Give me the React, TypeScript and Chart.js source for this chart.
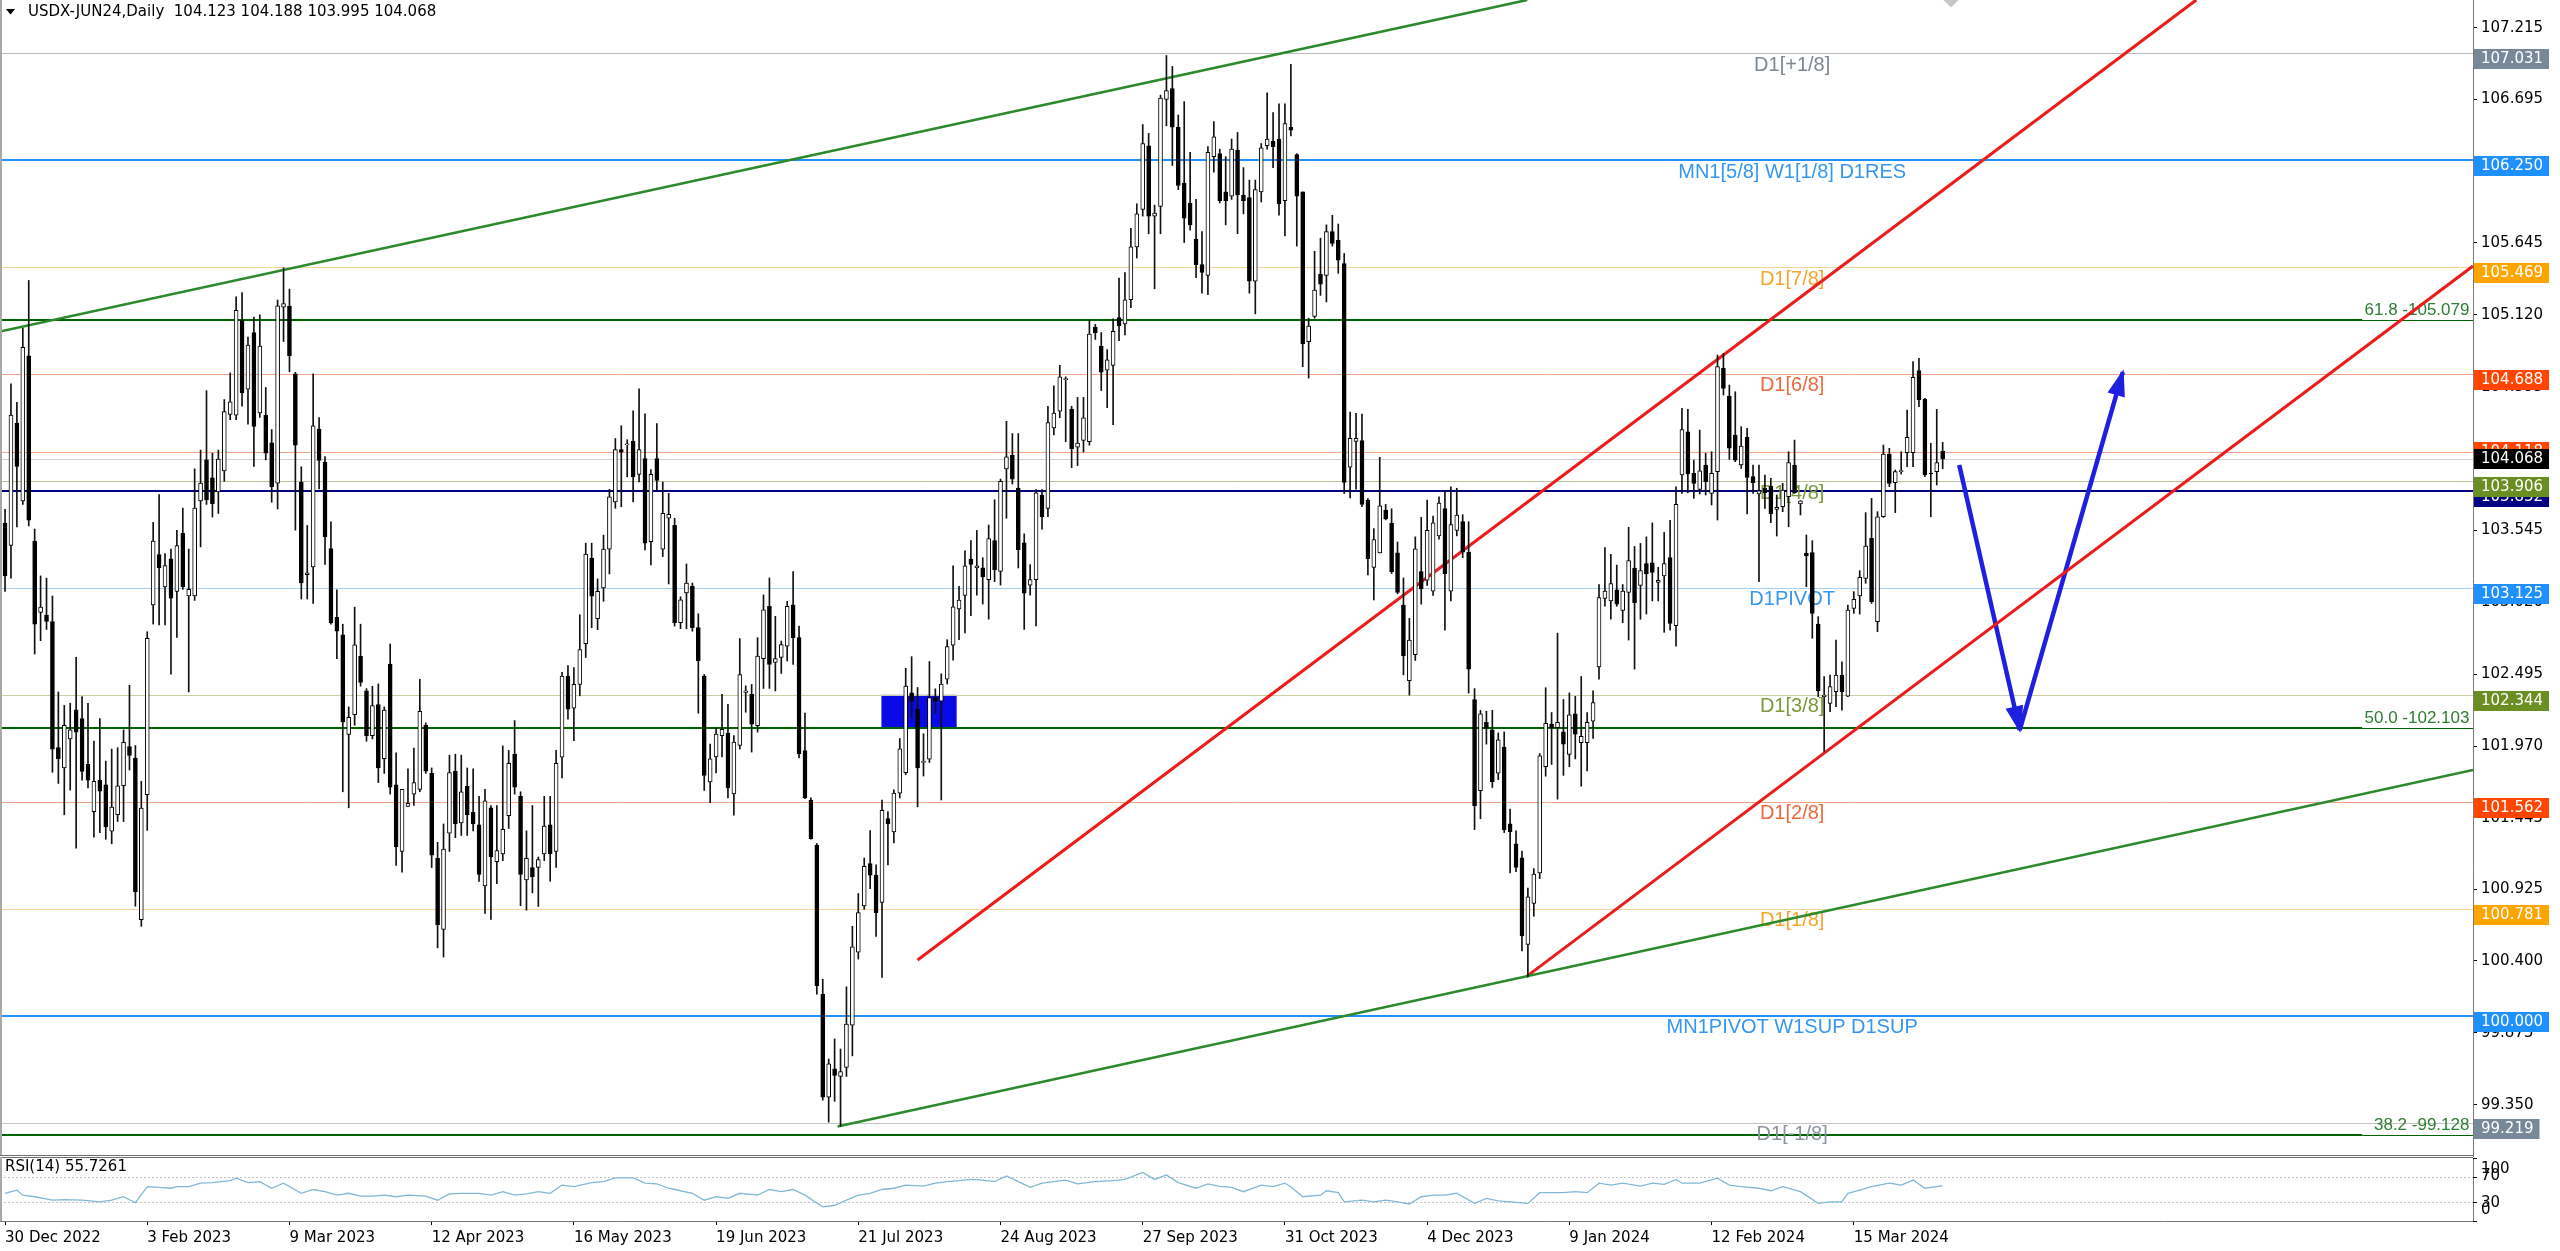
import React, { useEffect, useRef } from "react";
import { Chart, registerables } from "chart.js";

Chart.register(...registerables);

// ---------------- data ----------------
const symbolName = "USDX-JUN24";
const timeframe = "Daily";

const opens = [
  103.598,103.435,104.328,103.761,104.820,103.467,102.946,102.926,102.880,101.958,
  101.811,102.023,102.235,102.170,101.837,101.491,101.720,101.687,101.348,101.468,
  101.680,101.967,101.883,100.702,101.615,103.001,103.369,103.132,103.337,103.099,
  103.523,103.066,103.066,103.761,104.061,103.930,103.826,103.979,104.393,104.387,
  105.078,104.576,104.990,104.403,104.387,104.185,103.891,105.176,105.184,104.688,
  103.899,103.222,103.279,104.285,104.044,103.413,102.910,102.783,102.055,102.199,
  102.625,102.374,102.045,102.273,101.877,102.568,101.686,101.200,101.529,101.619,
  101.653,102.122,101.770,101.150,100.630,101.334,101.787,101.408,101.676,101.485,
  101.395,100.949,101.519,101.126,101.183,101.462,101.911,101.603,100.992,101.083,
  101.083,101.183,101.395,101.200,101.888,102.481,102.246,102.420,102.718,103.343,
  102.900,103.125,103.409,103.754,104.136,104.170,104.197,103.954,104.070,103.463,
  104.070,103.409,103.634,103.583,102.871,103.089,103.136,102.835,102.482,101.708,
  101.890,102.046,102.064,101.621,101.974,102.362,102.348,102.119,102.609,102.991,
  102.580,102.617,102.700,103.002,102.762,101.937,101.574,101.247,100.157,99.405,
  99.612,99.557,99.623,99.931,100.464,100.803,101.112,101.027,100.828,101.441,
  101.342,101.626,101.775,102.358,102.239,101.850,101.875,102.324,102.298,102.458,
  102.707,102.972,103.071,103.336,103.271,103.271,103.186,103.470,103.246,103.994,
  104.093,103.854,103.455,103.146,103.186,103.804,103.705,104.293,104.417,104.646,
  104.432,104.153,104.203,104.193,105.030,104.891,104.716,104.751,105.100,105.053,
  105.230,105.616,105.889,106.355,105.841,105.912,106.693,106.773,106.490,106.082,
  105.937,105.674,105.487,105.407,106.275,106.297,106.018,105.986,106.323,105.995,
  105.976,105.365,106.018,106.355,106.388,106.404,105.953,106.490,106.291,106.018,
  104.924,105.108,105.417,105.407,105.728,105.664,105.494,104.008,104.195,104.201,
  103.767,103.275,103.381,103.693,103.597,103.381,103.000,102.447,102.637,103.245,
  103.181,103.102,103.505,103.704,103.102,103.546,103.609,103.387,102.310,101.645,
  102.143,102.089,101.772,101.962,101.401,101.256,101.154,100.521,100.821,101.043,
  101.819,102.130,102.104,102.073,101.908,102.206,101.994,101.994,102.152,102.548,
  103.048,103.030,103.112,102.960,103.093,103.270,103.143,103.302,103.308,103.165,
  103.213,103.346,102.849,103.950,104.266,103.962,103.845,104.023,103.816,103.974,
  104.729,104.527,104.242,104.023,104.225,103.938,103.811,103.852,103.869,103.699,
  103.718,103.792,104.023,103.738,103.378,103.383,102.861,102.331,102.282,102.367,
  102.489,102.335,102.976,103.066,103.195,103.487,102.878,103.645,104.103,103.894,
  103.974,104.113,104.113,104.712,104.503,103.962,103.974,104.123,
];

const highs = [
  103.700,104.615,104.480,105.022,105.371,103.555,103.213,103.197,103.066,102.365,
  102.267,102.283,102.619,102.332,102.283,102.007,102.170,101.860,101.948,101.958,
  102.088,102.414,101.974,101.713,102.805,103.604,103.806,103.376,103.409,103.545,
  103.708,103.409,103.995,104.132,104.566,104.109,104.132,104.501,104.696,105.251,
  105.283,104.957,105.104,105.120,104.589,104.282,105.228,105.463,105.308,104.700,
  104.010,103.581,104.688,104.369,104.084,103.608,103.112,102.860,102.256,102.984,
  102.860,102.390,102.407,102.424,102.256,102.716,101.921,101.653,101.804,101.955,
  102.458,102.139,101.810,101.267,101.401,101.904,101.911,101.904,101.810,101.804,
  101.603,101.653,101.536,101.536,101.971,101.938,102.156,101.636,101.351,101.536,
  101.160,101.603,101.603,101.938,102.508,102.558,102.544,102.929,103.452,103.452,
  103.191,103.511,103.845,104.216,104.310,104.208,104.419,104.579,104.397,103.990,
  104.325,103.899,103.816,103.634,103.060,103.300,103.161,102.936,102.493,101.984,
  102.101,102.348,102.275,102.046,102.755,102.410,102.420,102.762,103.074,103.198,
  102.918,102.737,103.027,103.245,102.846,102.210,101.592,101.258,100.266,99.684,
  99.830,99.757,100.211,100.654,100.893,101.152,101.352,101.102,101.576,101.491,
  101.650,102.025,102.538,102.623,102.398,102.060,102.587,102.388,102.498,102.747,
  103.286,103.136,103.396,103.470,103.545,103.346,103.585,103.769,103.920,104.342,
  104.253,104.253,103.520,103.296,103.844,103.844,104.452,104.602,104.751,104.667,
  104.452,104.517,104.517,105.081,105.050,104.990,104.866,105.090,105.389,105.429,
  105.751,105.931,106.510,106.445,105.921,106.725,107.014,106.934,106.580,106.677,
  106.307,105.963,105.728,106.349,106.532,106.330,106.275,106.404,106.452,106.195,
  106.104,106.104,106.371,106.741,106.597,106.661,106.661,106.950,106.297,106.018,
  105.095,105.584,105.680,105.777,105.847,105.783,105.568,104.410,104.400,104.394,
  103.777,103.558,104.079,103.735,103.703,103.461,103.198,102.903,103.498,103.641,
  103.767,103.650,103.790,103.831,103.863,103.853,103.660,103.609,102.390,102.231,
  102.225,102.231,102.066,102.073,101.509,101.351,101.202,100.932,101.075,101.915,
  102.396,102.215,102.795,102.310,102.358,102.333,102.478,102.215,102.374,103.150,
  103.419,103.371,103.292,103.150,103.568,103.428,103.450,103.498,103.600,103.276,
  103.530,103.619,103.863,104.437,104.429,104.059,104.278,104.108,104.120,104.826,
  104.838,104.607,104.558,104.303,104.291,104.023,104.023,103.950,103.926,103.804,
  103.889,104.120,104.205,103.762,103.512,103.470,102.915,102.477,102.489,102.745,
  102.586,103.000,103.098,103.251,103.675,103.779,103.682,104.169,104.145,103.986,
  104.120,104.425,104.778,104.802,104.510,104.181,104.429,104.188,
];

const lows = [
  103.100,103.197,103.570,103.735,103.578,102.642,102.740,102.822,101.778,101.697,
  101.468,101.648,101.224,101.720,101.664,101.305,101.338,101.289,101.256,101.419,
  101.419,101.795,100.800,100.653,101.354,102.861,102.854,102.854,102.495,102.763,
  103.115,102.365,103.034,103.425,103.735,103.643,103.669,103.904,104.354,104.354,
  104.452,104.321,104.012,104.370,104.061,103.751,103.702,104.925,104.704,103.547,
  103.044,103.044,103.011,103.849,103.296,102.860,102.608,101.636,101.519,102.122,
  102.407,102.005,102.022,101.703,101.770,101.619,101.099,101.049,101.529,101.536,
  101.636,101.770,101.083,100.496,100.429,101.200,101.301,101.317,101.317,101.351,
  100.982,100.747,100.704,100.965,101.133,101.368,101.619,100.804,100.771,100.898,
  100.798,101.133,100.982,101.083,101.737,102.166,102.010,102.337,102.617,102.835,
  102.820,103.027,103.227,103.707,103.718,103.936,103.754,103.899,103.402,103.293,
  103.838,103.354,103.154,102.846,102.827,102.827,102.809,102.210,101.646,101.556,
  101.774,101.890,101.592,101.465,101.948,102.217,101.926,102.072,102.391,102.391,
  102.373,102.500,102.591,102.566,101.883,101.585,101.290,100.157,99.383,99.223,
  99.375,99.194,99.557,99.707,100.414,100.778,100.928,100.579,100.280,101.102,
  101.262,101.591,101.760,102.174,101.526,101.751,101.850,102.209,101.576,102.423,
  102.598,102.747,102.797,102.922,103.072,103.007,102.897,103.171,103.146,103.634,
  103.884,103.271,102.822,103.072,102.847,103.555,103.645,104.243,104.368,104.193,
  104.004,104.019,104.118,104.168,104.940,104.567,104.442,104.318,104.931,104.973,
  105.172,105.535,105.841,105.712,105.310,105.712,106.500,106.211,106.034,105.648,
  105.738,105.391,105.278,105.268,106.162,105.937,105.777,105.963,105.712,105.857,
  105.278,105.127,105.944,106.330,106.195,105.847,105.696,106.426,105.622,104.741,
  104.658,105.095,105.262,105.214,105.622,105.423,103.815,103.783,103.847,103.719,
  103.220,103.037,103.381,103.622,103.230,103.082,102.490,102.342,102.595,103.007,
  103.143,103.071,103.482,102.817,103.030,103.505,103.346,102.358,101.360,101.439,
  101.984,101.667,101.724,101.338,101.043,101.053,100.473,100.283,100.727,101.002,
  101.750,101.835,101.582,101.756,101.819,101.876,101.677,101.788,102.025,102.459,
  102.991,102.896,102.991,102.871,102.744,102.532,102.896,102.934,103.030,103.030,
  102.801,102.817,102.700,103.815,103.821,103.779,103.811,103.804,103.731,103.621,
  104.534,104.064,104.047,103.998,103.665,103.816,103.171,103.706,103.602,103.504,
  103.682,103.572,103.816,103.658,103.134,102.757,102.331,101.929,102.221,102.258,
  102.233,102.331,102.939,102.934,103.159,103.012,102.805,103.640,103.865,103.675,
  103.957,104.011,104.011,104.449,103.938,103.645,103.877,103.995,
];

const closes = [
  103.213,104.387,104.012,104.882,103.620,102.861,102.985,102.880,101.948,101.876,
  102.121,102.088,102.072,101.785,101.720,101.713,101.641,101.380,101.524,101.680,
  101.997,101.902,100.904,101.517,102.756,103.467,103.272,103.288,103.050,103.435,
  103.132,103.115,103.708,103.891,103.767,103.741,104.067,104.413,104.484,105.153,
  104.550,104.898,104.305,104.892,104.109,103.865,105.185,105.202,104.822,104.168,
  103.162,103.235,104.309,104.057,103.497,102.870,102.810,102.146,102.179,102.709,
  102.434,102.045,102.266,101.810,102.233,101.669,101.233,101.653,101.552,101.703,
  102.223,101.787,101.173,100.663,101.217,101.777,101.401,101.636,101.468,101.401,
  101.032,101.569,101.160,101.207,101.361,101.844,101.670,101.032,101.150,101.016,
  101.140,101.385,101.183,101.844,102.481,102.240,102.420,102.675,103.372,103.064,
  103.100,103.409,103.790,104.136,104.117,104.172,103.936,104.136,103.452,103.954,
  103.910,103.670,103.663,102.871,103.038,103.161,102.835,102.591,101.756,101.876,
  102.057,102.093,101.665,101.999,102.493,102.373,102.130,102.628,102.965,102.566,
  102.609,102.711,102.991,102.762,101.912,101.592,101.294,100.219,99.405,99.648,
  99.564,99.593,99.939,100.504,100.753,101.092,101.027,100.753,101.501,101.401,
  101.626,101.950,102.408,102.298,101.810,101.860,102.324,102.298,102.423,102.697,
  102.987,103.037,103.286,103.296,103.286,103.206,103.485,103.256,103.904,104.083,
  103.919,103.405,103.086,103.186,103.819,103.645,104.333,104.402,104.667,104.652,
  104.143,104.183,104.368,104.980,104.990,104.701,104.791,105.000,105.040,105.230,
  105.616,105.857,106.371,105.841,105.863,106.703,106.757,106.490,106.066,105.825,
  105.777,105.487,105.429,106.307,106.420,105.953,105.953,106.330,105.995,105.953,
  105.365,106.034,106.339,106.404,106.349,105.931,106.516,106.468,105.986,104.908,
  105.037,105.301,105.343,105.728,105.642,105.519,103.896,104.217,104.217,103.735,
  103.339,103.478,103.725,103.629,103.243,103.092,102.630,102.744,103.410,103.118,
  103.546,103.600,103.745,103.229,103.587,103.657,103.387,102.532,101.534,102.206,
  102.098,101.709,102.016,101.360,101.344,101.084,100.584,100.869,101.034,101.899,
  102.136,102.104,102.143,101.984,102.199,102.057,102.041,102.143,102.288,103.055,
  103.102,103.156,103.007,103.102,103.324,103.017,103.251,103.229,103.238,103.181,
  103.302,102.865,103.736,104.281,103.957,103.889,103.981,103.901,103.962,104.741,
  104.583,104.145,104.059,104.162,103.933,103.894,103.835,103.821,103.665,103.714,
  103.840,104.040,103.821,103.762,103.358,102.939,102.375,102.343,102.404,102.489,
  102.367,102.964,103.042,103.202,103.431,103.025,103.645,104.103,103.889,103.974,
  103.981,104.225,104.663,104.498,103.950,103.957,104.040,104.068,
];

const dateTickIdx = [0, 24, 48, 72, 96, 120, 144, 168, 192, 216, 240, 264, 288, 312];
const dateTickLabels = [
  "30 Dec 2022", "3 Feb 2023", "9 Mar 2023", "12 Apr 2023", "16 May 2023", "19 Jun 2023",
  "21 Jul 2023", "24 Aug 2023", "27 Sep 2023", "31 Oct 2023", "4 Dec 2023", "9 Jan 2024",
  "12 Feb 2024", "15 Mar 2024",
];

const priceTickValues = [107.215, 106.695, 106.170, 105.645, 105.120, 104.595, 104.070, 103.545,
  103.020, 102.495, 101.970, 101.445, 100.925, 100.400, 99.875, 99.350];
const priceTickLabels = ["107.215", "106.695", "106.170", "105.645", "105.120", "104.595", "104.070",
  "103.545", "103.020", "102.495", "101.970", "101.445", "100.925", "100.400", "99.875", "99.350"];

const rsiIdx = [0,2,3,5,8,10,13,16,18,20,22,24,26,28,29,31,33,35,38,39,41,43,45,47,50,52,54,56,58,60,
  62,64,66,68,71,73,75,77,80,82,84,86,88,90,92,94,96,99,101,103,106,108,110,112,114,116,118,120,122,124,
  127,129,131,133,135,138,140,142,144,146,148,150,152,155,157,159,161,163,165,167,169,171,173,175,177,179,181,184,187,189,
  192,194,196,198,201,203,205,207,209,212,214,216,217,219,222,223,225,226,229,231,233,235,237,239,241,243,245,248,250,252,
  254,257,259,261,263,265,267,269,271,273,276,278,280,282,283,286,289,291,293,296,298,300,303,306,308,310,311,313,315,318,
  320,322,324,326,327];
const rsiVal = [44,49,41,38.5,33,34,33,30.5,33,38.5,29,54.5,53.5,52,54.5,54.5,60,61,64,68,61,62.5,52,60,44,50,46.5,41,44,39.5,
  39.5,41,38.5,41,39.5,33,43,44,44,41,46.5,41,43,46.5,44,57,54.5,61,62.5,68.5,68.5,60,59,52,48,44,33,38.5,36,44,
  41,50,46.5,50,41,22.5,25,33,41,44,50,52,57,55.5,60,62.5,64,66,65,62.5,71.5,62.5,53.5,60,62.5,65,59,62.5,64,66,
  77,66,73,61,52,59,55,53.5,46.5,57,54.5,60,54.5,38.5,41,48,45,30.5,33,30.5,33,30.5,27,38.5,41,41,44,28,36,32,
  30.5,28,45,45,45,46.5,45,60,57,60,55.5,60,58,66,60,60,68,57,54.5,52,48,54.5,46.5,28,30.5,30.5,44,49,54.5,60,
  57,65,52,54.5,55.7261];
const rsiLevels = [70, 30];

// horizontal levels (price, label)
const levelPrices = [107.031, 106.250, 105.469, 104.688, 104.118, 104.068, 103.906, 103.832, 103.125,
  102.344, 101.562, 100.781, 100.000, 99.219];
const levelNames = ["D1[+1/8]", "MN1[5/8] W1[1/8] D1RES", "D1[7/8]", "D1[6/8]", "", "", "D1[4/8]", "",
  "D1PIVOT", "D1[3/8]", "D1[2/8]", "D1[1/8]", "MN1PIVOT W1SUP D1SUP", "D1[-1/8]"];

// price tags on the axis (drawing order matters for overlaps)
const tagPrices = [107.031, 106.250, 105.469, 104.688, 104.118, 104.068, 103.832, 103.906, 103.125,
  102.344, 101.562, 100.781, 100.000, 99.219];

// fibonacci levels
const fiboPrices = [105.079, 102.103, 99.128];
const fiboNames = ["61.8", "50.0", "38.2"];

// trend lines / arrows as [barIndex, price] pairs
const greenUpperLine = [[-0.85, 104.998], [256.9, 107.42]];
const greenLowerLine = [[140.5, 99.191], [416.5, 101.795]];
const redUpperLine = [[154.0, 100.407], [369.8, 107.42]];
const redLowerLine = [[256.8, 100.288], [416.5, 105.476]];
const arrowDown = [[329.8, 104.023], [340.0, 102.087]];
const arrowUp = [[340.0, 102.087], [357.4, 104.702]];
const zoneIdx = [147.9, 160.6];
const zonePrices = [102.103, 102.344];
const topMarker = [328.4, 107.43];

// ---------------- styles / layout ----------------
const X_MIN = -0.85;
const X_MAX = 416.5;
const P_MIN = 98.9756;
const P_MAX = 107.4195;
const AXIS_W = 87;
const UI_FAMILY = "DejaVu Sans";
const UI_FONT = '15px "DejaVu Sans"';
const OBJ_FAMILY = '"Liberation Sans"';
const LEVEL_TEXT_X = 301.6;
const FIBO_THICK_END = 397.8;
const FIBO_TEXT_X = 415.9;
const BLUE = "#1f1fe0";

const levelStyles = [
  { line: "#b9b9b9", w: 1, text: "#7d8894" },
  { line: "#1e90ff", w: 2, text: "#3597f0" },
  { line: "#f5d49c", w: 1, text: "#f3a52e" },
  { line: "#f2a487", w: 1, text: "#ee6a3e" },
  { line: "#f2a487", w: 1, text: "" },
  { line: "#cfcfcf", w: 1, text: "" },
  { line: "#bcc495", w: 1, text: "#7a9a3c" },
  { line: "#000080", w: 2, text: "" },
  { line: "#a2cff2", w: 1, text: "#3597f0" },
  { line: "#cfcca3", w: 1, text: "#7a9a3c" },
  { line: "#f2a487", w: 1, text: "#ee6a3e" },
  { line: "#f5d49c", w: 1, text: "#f3a52e" },
  { line: "#1e90ff", w: 2, text: "#3597f0" },
  { line: "#c4c4c4", w: 1, text: "#8a949e" },
];

const tagStyles = [
  { bg: "#778899", centered: false },
  { bg: "#1e90ff", centered: false },
  { bg: "#ffa500", centered: false },
  { bg: "#ff4500", centered: false },
  { bg: "#ff4500", centered: true },
  { bg: "#000000", centered: true },
  { bg: "#000080", centered: false },
  { bg: "#6b8e23", centered: false },
  { bg: "#1e90ff", centered: false },
  { bg: "#6b8e23", centered: false },
  { bg: "#ff4500", centered: false },
  { bg: "#ffa500", centered: false },
  { bg: "#1e90ff", centered: false },
  { bg: "#778899", centered: false },
];

const toPts = (arr: number[][]) => arr.map((p) => ({ x: p[0], y: p[1] }));

export default function App() {
  const mainRef = useRef<HTMLCanvasElement | null>(null);
  const rsiRef = useRef<HTMLCanvasElement | null>(null);

  useEffect(() => {
    document.body.style.margin = "0";
    document.body.style.overflow = "hidden";
    Chart.defaults.font.family = UI_FAMILY;

    const hi = highs.map((h, i) => Math.max(h, opens[i], closes[i]));
    const lo = lows.map((l, i) => Math.min(l, opens[i], closes[i]));
    const wickData = opens.map((_, i) => ({ x: i, y: [lo[i], hi[i]] }));
    const bodyData = opens.map((o, i) => ({ x: i, y: [o, closes[i]] }));
    const bodyFill = opens.map((o, i) => (closes[i] >= o ? "#ffffff" : "#000000"));

    const mainPlugin = {
      id: "mt4main",
      beforeDatasetsDraw(chart: any) {
        const { ctx, chartArea: a, scales } = chart;
        const xs = scales.x;
        const ys = scales.y;
        ctx.save();
        ctx.beginPath();
        ctx.rect(a.left, a.top, a.right - a.left, a.bottom - a.top);
        ctx.clip();
        // zone rectangle
        const rx1 = xs.getPixelForValue(zoneIdx[0]);
        const rx2 = xs.getPixelForValue(zoneIdx[1]);
        const ry1 = ys.getPixelForValue(zonePrices[1]);
        const ry2 = ys.getPixelForValue(zonePrices[0]);
        ctx.fillStyle = "#0a0ae6";
        ctx.fillRect(rx1, ry1, rx2 - rx1, ry2 - ry1);
        // level lines
        levelPrices.forEach((p, i) => {
          const st = levelStyles[i];
          const y = ys.getPixelForValue(p);
          const yy = st.w % 2 === 1 ? Math.round(y) + 0.5 : Math.round(y);
          ctx.strokeStyle = st.line;
          ctx.lineWidth = st.w;
          ctx.beginPath();
          ctx.moveTo(a.left, yy);
          ctx.lineTo(a.right, yy);
          ctx.stroke();
        });
        // fibo lines
        const xEnd = xs.getPixelForValue(FIBO_THICK_END);
        fiboPrices.forEach((p, i) => {
          const y = Math.round(ys.getPixelForValue(p));
          ctx.strokeStyle = "#006400";
          ctx.lineWidth = 2;
          ctx.beginPath();
          ctx.moveTo(a.left, y);
          ctx.lineTo(xEnd, y);
          ctx.stroke();
          ctx.lineWidth = 1;
          ctx.beginPath();
          ctx.moveTo(xEnd, y + 0.5);
          ctx.lineTo(a.right, y + 0.5);
          ctx.stroke();
          ctx.fillStyle = "#2e7d32";
          ctx.font = "17px " + OBJ_FAMILY;
          ctx.textAlign = "right";
          ctx.textBaseline = "bottom";
          ctx.fillText(fiboNames[i] + " -" + p.toFixed(3), xs.getPixelForValue(FIBO_TEXT_X), y - 1);
        });
        // level labels
        const lx = xs.getPixelForValue(LEVEL_TEXT_X);
        ctx.font = "20px " + OBJ_FAMILY;
        ctx.textAlign = "center";
        ctx.textBaseline = "top";
        levelPrices.forEach((p, i) => {
          if (!levelNames[i]) return;
          ctx.fillStyle = levelStyles[i].text;
          ctx.fillText(levelNames[i], lx, ys.getPixelForValue(p) + 2);
        });
        ctx.restore();
      },
      afterDatasetsDraw(chart: any) {
        const { ctx, chartArea: a, scales } = chart;
        const xs = scales.x;
        const ys = scales.y;
        ctx.save();
        ctx.beginPath();
        ctx.rect(a.left, a.top, a.right - a.left, a.bottom - a.top);
        ctx.clip();
        [arrowDown, arrowUp].forEach((ar) => {
          const x1 = xs.getPixelForValue(ar[0][0]);
          const y1 = ys.getPixelForValue(ar[0][1]);
          const x2 = xs.getPixelForValue(ar[1][0]);
          const y2 = ys.getPixelForValue(ar[1][1]);
          const ang = Math.atan2(y2 - y1, x2 - x1);
          const c = Math.cos(ang);
          const s = Math.sin(ang);
          const L = 24;
          const W = 9;
          ctx.fillStyle = BLUE;
          ctx.beginPath();
          ctx.moveTo(x2 + c * 3, y2 + s * 3);
          ctx.lineTo(x2 - L * c + W * s, y2 - L * s - W * c);
          ctx.lineTo(x2 - L * c - W * s, y2 - L * s + W * c);
          ctx.closePath();
          ctx.fill();
        });
        // gray marker at top
        const mx = xs.getPixelForValue(topMarker[0]);
        const my = ys.getPixelForValue(topMarker[1]);
        ctx.fillStyle = "#c6c6c6";
        ctx.beginPath();
        ctx.moveTo(mx, my - 9);
        ctx.lineTo(mx + 9, my);
        ctx.lineTo(mx, my + 9);
        ctx.lineTo(mx - 9, my);
        ctx.closePath();
        ctx.fill();
        ctx.restore();
      },
      afterDraw(chart: any) {
        const { ctx, chartArea: a, scales } = chart;
        const ys = scales.y;
        ctx.save();
        // price tags
        ctx.font = UI_FONT;
        ctx.textAlign = "left";
        ctx.textBaseline = "middle";
        tagPrices.forEach((p, i) => {
          const st = tagStyles[i];
          const y = ys.getPixelForValue(p);
          const txt = p.toFixed(3);
          const w = ctx.measureText(txt).width + 13;
          const top = st.centered ? Math.round(y) - 10 : Math.round(y) - 4;
          ctx.fillStyle = st.bg;
          ctx.fillRect(a.right + 1, top, w, 20);
          ctx.fillStyle = "#ffffff";
          ctx.fillText(txt, a.right + 8, top + 10.5);
        });
        // borders
        ctx.fillStyle = "#a8a8a8";
        ctx.fillRect(0, 0, 2, a.bottom);
        ctx.fillStyle = "#6e6e6e";
        ctx.fillRect(0, a.bottom - 1, a.right, 1);
        // header
        const last = opens.length - 1;
        ctx.fillStyle = "#000";
        ctx.beginPath();
        ctx.moveTo(6, 9);
        ctx.lineTo(15, 9);
        ctx.lineTo(10.5, 14.5);
        ctx.closePath();
        ctx.fill();
        ctx.font = UI_FONT;
        ctx.textAlign = "left";
        ctx.textBaseline = "middle";
        const hdr = symbolName + "," + timeframe + "  " + opens[last].toFixed(3) + " " + highs[last].toFixed(3) +
          " " + lows[last].toFixed(3) + " " + closes[last].toFixed(3);
        ctx.fillText(hdr, 28, 12);
        ctx.restore();
      },
    };

    const lineDs = (pts: number[][], color: string, w: number) => ({
      type: "line",
      data: toPts(pts),
      borderColor: color,
      borderWidth: w,
      pointRadius: 0,
      tension: 0,
      fill: false,
      order: 5,
    });

    const main = new Chart(mainRef.current as HTMLCanvasElement, {
      type: "bar",
      data: {
        datasets: [
          {
            type: "bar",
            data: bodyData,
            backgroundColor: bodyFill,
            borderColor: "#000000",
            borderWidth: 1,
            borderSkipped: false,
            barThickness: 4,
            minBarLength: 1,
            grouped: false,
            order: 0,
          },
          {
            type: "bar",
            data: wickData,
            backgroundColor: "#111111",
            borderWidth: 0,
            barThickness: 1,
            minBarLength: 1,
            grouped: false,
            order: 1,
          },
          lineDs(greenUpperLine, "#2b8a2b", 2.5),
          lineDs(greenLowerLine, "#2b8a2b", 2.5),
          lineDs(redUpperLine, "#ea1c1c", 3),
          lineDs(redLowerLine, "#ea1c1c", 3),
          lineDs(arrowDown, BLUE, 4.5),
          lineDs(arrowUp, BLUE, 4.5),
        ] as any,
      },
      options: {
        responsive: false,
        animation: false,
        events: [],
        layout: { padding: { left: 0, right: 0, top: 0, bottom: 1 } },
        plugins: { legend: { display: false }, tooltip: { enabled: false } },
        scales: {
          x: {
            type: "linear",
            min: X_MIN,
            max: X_MAX,
            display: false,
            offset: false,
            grid: { display: false },
          },
          y: {
            type: "linear",
            position: "right",
            min: P_MIN,
            max: P_MAX,
            afterBuildTicks: (s: any) => {
              s.ticks = priceTickValues.map((v) => ({ value: v }));
            },
            afterFit: (s: any) => {
              s.width = AXIS_W;
              s.paddingTop = 0;
              s.paddingBottom = 0;
            },
            ticks: {
              autoSkip: false,
              padding: 4,
              color: "#000000",
              font: { family: UI_FAMILY, size: 15 },
              callback: (_v: any, i: number) => priceTickLabels[i],
            },
            grid: { drawOnChartArea: false, drawTicks: true, tickLength: 4, color: "#000000" },
            border: { display: true, color: "#7a7a7a", width: 1 },
          },
        },
      } as any,
      plugins: [mainPlugin],
    });

    const rsiPlugin = {
      id: "mt4rsi",
      beforeDatasetsDraw(chart: any) {
        const { ctx, chartArea: a, scales } = chart;
        const ys = scales.y;
        ctx.save();
        ctx.strokeStyle = "#c2c2c2";
        ctx.lineWidth = 1;
        ctx.setLineDash([2, 2]);
        rsiLevels.forEach((v) => {
          const y = Math.round(ys.getPixelForValue(v)) + 0.5;
          ctx.beginPath();
          ctx.moveTo(a.left, y);
          ctx.lineTo(a.right, y);
          ctx.stroke();
        });
        ctx.restore();
      },
      afterDraw(chart: any) {
        const { ctx, chartArea: a, scales } = chart;
        const ys = scales.y;
        ctx.save();
        ctx.fillStyle = "#6e6e6e";
        ctx.fillRect(0, 0, a.right, 1);
        ctx.fillStyle = "#a8a8a8";
        ctx.fillRect(0, 0, 2, a.bottom);
        ctx.font = UI_FONT;
        ctx.fillStyle = "#000";
        ctx.textAlign = "left";
        ctx.textBaseline = "top";
        ctx.fillText("RSI(14) " + rsiVal[rsiVal.length - 1].toFixed(4), 5, 3);
        ctx.textBaseline = "middle";
        const lbls = [
          { v: 100, dy: 11 },
          { v: 70, dy: -1 },
          { v: 30, dy: 1 },
          { v: 0, dy: -11 },
        ];
        lbls.forEach((l) => {
          const y = ys.getPixelForValue(l.v);
          ctx.fillStyle = "#000";
          ctx.fillRect(a.right, Math.round(y), 4, 1);
          ctx.fillText(String(l.v), a.right + 8, y + l.dy);
        });
        ctx.restore();
      },
    };

    const rsi = new Chart(rsiRef.current as HTMLCanvasElement, {
      type: "line",
      data: {
        datasets: [
          {
            data: rsiIdx.map((x, i) => ({ x, y: rsiVal[i] })),
            borderColor: "#80b8d6",
            borderWidth: 1.3,
            pointRadius: 0,
            tension: 0,
            fill: false,
          },
        ],
      },
      options: {
        responsive: false,
        animation: false,
        events: [],
        layout: { padding: { left: 0, right: 0, top: 1, bottom: 0 } },
        plugins: { legend: { display: false }, tooltip: { enabled: false } },
        scales: {
          x: {
            type: "linear",
            min: X_MIN,
            max: X_MAX,
            offset: false,
            afterBuildTicks: (s: any) => {
              s.ticks = dateTickIdx.map((v) => ({ value: v }));
            },
            afterFit: (s: any) => {
              s.height = 30;
              s.paddingLeft = 0;
              s.paddingRight = 0;
            },
            ticks: {
              autoSkip: false,
              maxRotation: 0,
              minRotation: 0,
              align: "start",
              padding: 4,
              color: "#000000",
              font: { family: UI_FAMILY, size: 15 },
              callback: (_v: any, i: number) => dateTickLabels[i],
            },
            grid: { drawOnChartArea: false, drawTicks: true, tickLength: 4, color: "#000000" },
            border: { display: true, color: "#7a7a7a" },
          },
          y: {
            type: "linear",
            position: "right",
            min: 0,
            max: 100,
            afterFit: (s: any) => {
              s.width = AXIS_W;
              s.paddingTop = 0;
              s.paddingBottom = 0;
            },
            ticks: { display: false },
            grid: { drawOnChartArea: false, drawTicks: false },
            border: { display: true, color: "#7a7a7a" },
          },
        },
      } as any,
      plugins: [rsiPlugin],
    });

    return () => {
      main.destroy();
      rsi.destroy();
    };
  }, []);

  return (
    <div style={{ width: 2560, height: 1251, background: "#ffffff", overflow: "hidden" }}>
      <canvas ref={mainRef} width={2560} height={1157} style={{ display: "block" }} />
      <canvas ref={rsiRef} width={2560} height={94} style={{ display: "block" }} />
    </div>
  );
}
